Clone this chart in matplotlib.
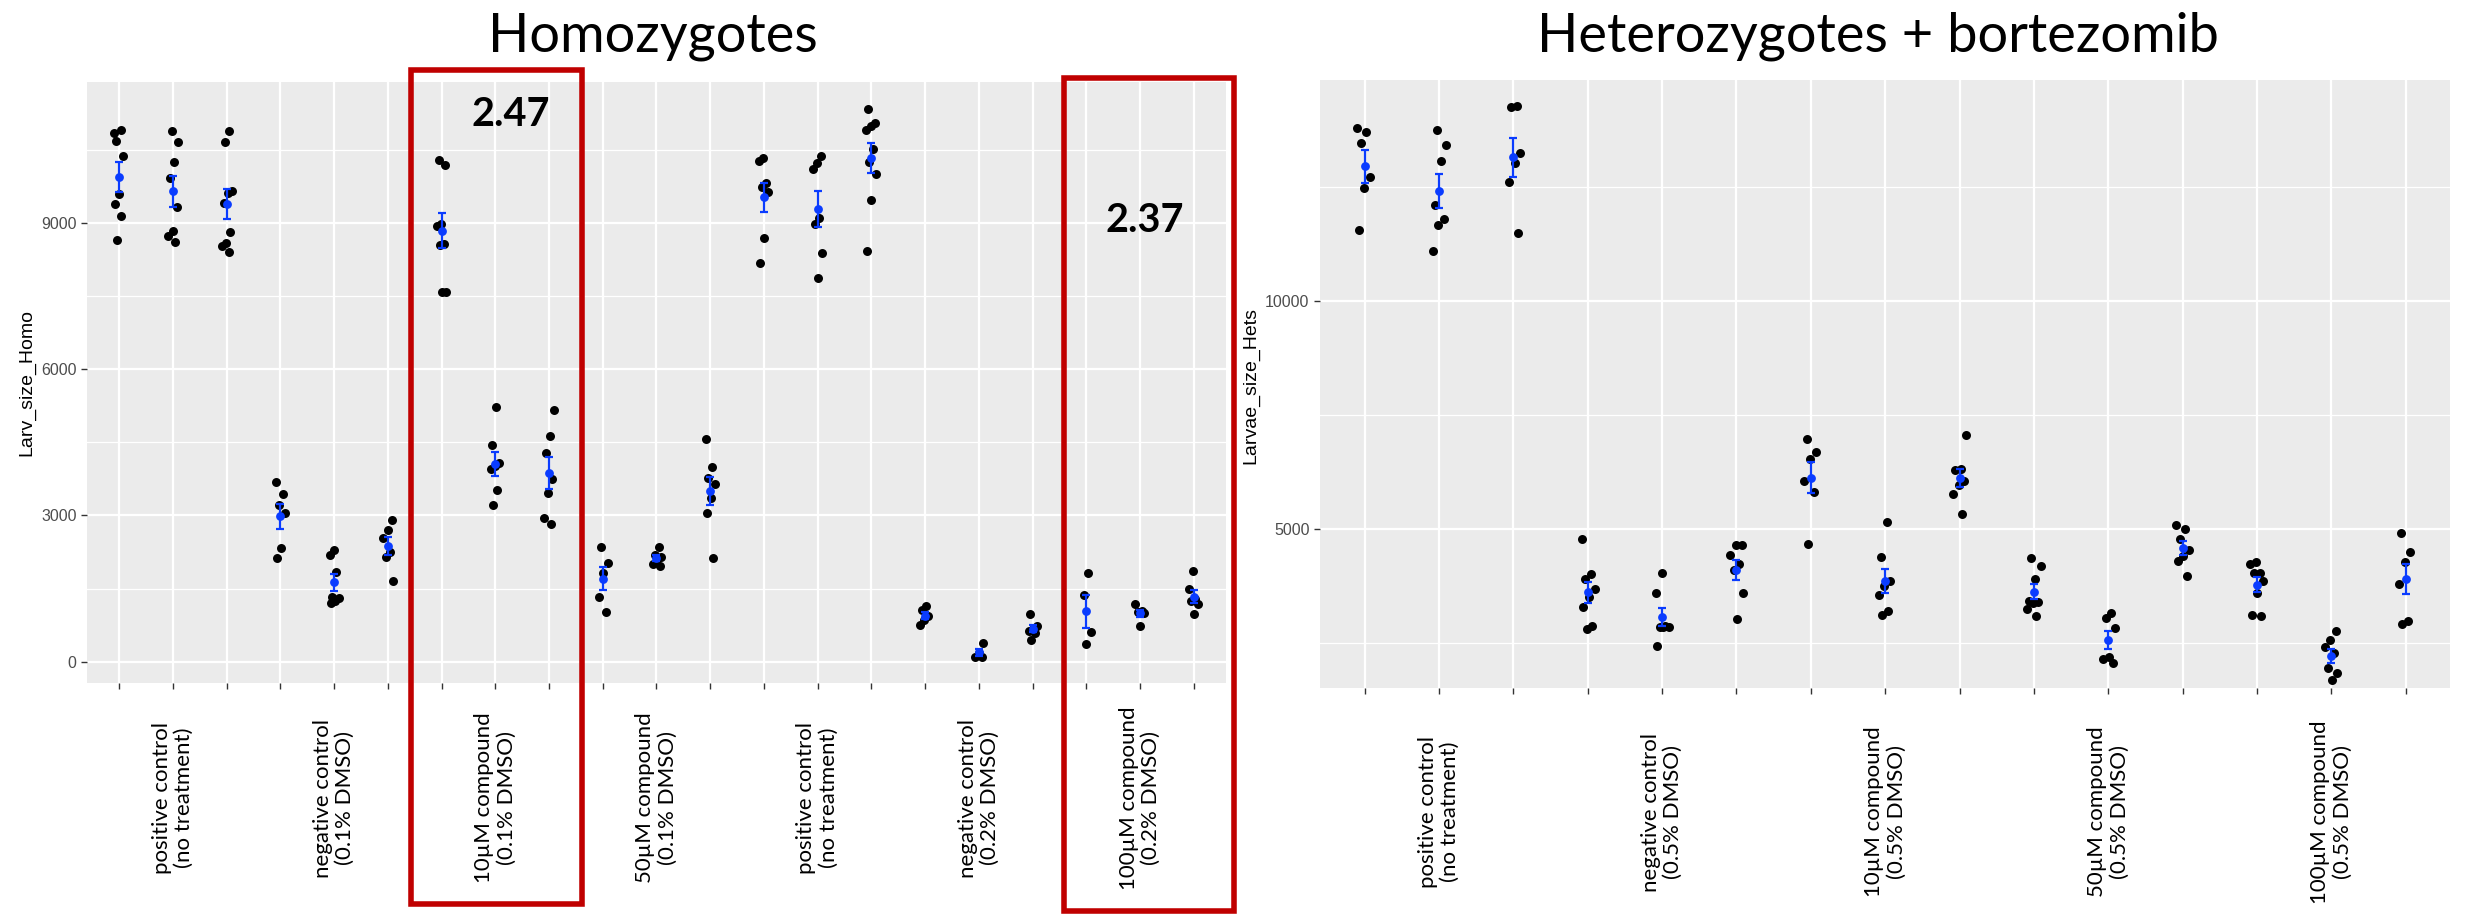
import numpy as np
import matplotlib
matplotlib.use("Agg")
import matplotlib.pyplot as plt
from matplotlib.transforms import blended_transform_factory
from matplotlib.patches import Rectangle
from matplotlib.ticker import FixedLocator

# ---------------- data ----------------
homo_labels = ["", "positive control\n(no treatment)", "",
               "", "negative control\n(0.1% DMSO)", "",
               "", "10µM compound\n(0.1% DMSO)", "",
               "", "50µM compound\n(0.1% DMSO)", "",
               "", "positive control\n(no treatment)", "",
               "", "negative control\n(0.2% DMSO)", "",
               "", "100µM compound\n(0.2% DMSO)", ""]

homo_values = [
    [10839, 10903, 10679, 10375, 9601, 9401, 9137, 8650],
    [10887, 10655, 10248, 9920, 9321, 8842, 8730, 8610],
    [10887, 10655, 9665, 9609, 9409, 8818, 8594, 8522, 8403],
    [3690, 3450, 3219, 3059, 2332, 2133],
    [2292, 2188, 1837, 1318, 1302, 1254, 1206],
    [2915, 2700, 2532, 2252, 2149, 1653],
    [10288, 10200, 8986, 8946, 8570, 8554, 7588, 7588],
    [5224, 4449, 4073, 4010, 3954, 3514, 3219],
    [5168, 4625, 4273, 3754, 3458, 2939, 2835],
    [2348, 2021, 1813, 1326, 1022],
    [2348, 2180, 2150, 2101, 2013, 1957],
    [4569, 3994, 3778, 3650, 3355, 3059, 2125],
    [10343, 10264, 9832, 9744, 9641, 8698, 8179],
    [10367, 10232, 10104, 9113, 8986, 8387, 7867],
    [11342, 11046, 10982, 10919, 10519, 10256, 10008, 9473, 8427],
    [1142, 1062, 935, 855, 743],
    [383, 184, 104, 88],
    [974, 735, 679, 631, 583, 439],
    [1813, 1374, 607, 359],
    [1182, 1038, 1022, 998, 727],
    [1869, 1486, 1278, 1238, 1182, 974],
]

hets_labels = ["", "positive control\n(no treatment)", "",
               "", "negative control\n(0.5% DMSO)", "",
               "", "10µM compound\n(0.5% DMSO)", "",
               "", "50µM compound\n(0.5% DMSO)", "",
               "", "100µM compound\n(0.5% DMSO)", ""]

hets_values = [
    [13813, 13726, 13473, 12723, 12487, 11562],
    [13761, 13429, 13072, 12112, 11806, 11675, 11099],
    [14284, 14267, 13246, 13045, 12618, 11492],
    [4773, 4014, 3909, 3674, 3517, 3298, 2880, 2801],
    [4031, 3595, 2862, 2853, 2850, 2845, 2443],
    [4651, 4642, 4433, 4223, 4101, 3595, 3028],
    [6981, 6693, 6545, 6065, 5820, 4668],
    [5148, 4380, 3866, 3752, 3560, 3211, 3115],
    [7068, 6326, 6300, 6065, 5977, 5777, 5340],
    [4354, 4180, 3909, 3421, 3400, 3386, 3246, 3080],
    [3159, 3037, 2818, 2182, 2155, 2051],
    [5096, 4991, 4782, 4538, 4407, 4293, 3970],
    [4267, 4223, 4031, 4031, 3857, 3604, 3106, 3098],
    [2766, 2557, 2408, 2269, 1946, 1832, 1675],
    [4921, 4503, 4276, 3787, 2984, 2923],
]

homo_yticks = [0, 3000, 6000, 9000]
homo_yminor = [1500, 4500, 7500, 10500]
hets_yticks = [5000, 10000]
hets_yminor = [2500, 7500, 12500]

titles = ["Homozygotes", "Heterozygotes + bortezomib"]
ylabels = ["Larv_size_Homo", "Larvae_size_Hets"]
fold_texts = ["2.47", "2.37"]

# ---------------- figure ----------------
W, H = 2468, 915
fig = plt.figure(figsize=(W / 100, H / 100), dpi=100)
fig.patch.set_facecolor("white")

def fx(px):
    return px / W

def fy(py):
    return 1 - py / H

BG = "#EBEBEB"
BLUE = "#0A3CFF"
TICKCOL = "#4D4D4D"

def panel(rect, values, labels, ylim, yticks, yminor, label_y):
    ax = fig.add_axes(rect)
    ax.set_facecolor(BG)
    n = len(values)
    ax.set_xlim(0.4, n + 0.6)
    ax.set_ylim(*ylim)
    for s in ax.spines.values():
        s.set_visible(False)
    ax.set_axisbelow(True)
    ax.set_xticks(np.arange(1, n + 1))
    ax.set_xticklabels([""] * n)
    ax.set_yticks(yticks)
    ax.set_yticklabels([str(t) for t in yticks], family="Liberation Sans",
                       fontsize=11.5, color=TICKCOL)
    ax.yaxis.set_minor_locator(FixedLocator(yminor))
    ax.tick_params(which="major", length=4, width=1.0, color="#333333", pad=3.5)
    ax.tick_params(which="minor", length=0)
    ax.grid(which="major", axis="both", color="white", lw=1.6)
    ax.grid(which="minor", axis="y", color="white", lw=0.9)

    for g, vals in enumerate(values):
        vals = np.asarray(vals, dtype=float)
        k = np.arange(len(vals))
        jit = 0.2 * (((k * 0.618034) + g * 0.37) % 1.0 - 0.5)
        ax.scatter(g + 1 + jit, vals, s=42, color="black", zorder=3,
                   linewidths=0)
        m = vals.mean()
        se = vals.std(ddof=1) / np.sqrt(len(vals))
        ax.errorbar([g + 1], [m], yerr=[se], fmt="none", ecolor=BLUE,
                    elinewidth=1.6, capsize=3, capthick=1.6, zorder=4)
        ax.scatter([g + 1], [m], s=40, color=BLUE, zorder=5, linewidths=0)

    trans = blended_transform_factory(ax.transData, fig.transFigure)
    for i, lab in enumerate(labels):
        if lab:
            ax.text(i + 1, fy(label_y), lab, transform=trans, rotation=90,
                    ha="center", va="center", multialignment="center",
                    fontsize=16, family="Lato", clip_on=False,
                    linespacing=1.15)
    return ax

ax1 = panel([fx(87), fy(683), fx(1226) - fx(87), fy(81.7) - fy(683)],
            homo_values, homo_labels, (-437, 11901),
            homo_yticks, homo_yminor, 798)
ax2 = panel([fx(1320), fy(688), fx(2450.4) - fx(1320), fy(79.5) - fy(688)],
            hets_values, hets_labels, (1510, 14870),
            hets_yticks, hets_yminor, 812)

# axis titles
fig.text(fx(27), fy(382), ylabels[0], rotation=90, ha="center", va="center",
         family="Liberation Sans", fontsize=14)
fig.text(fx(1251), fy(385), ylabels[1], rotation=90, ha="center", va="center",
         family="Liberation Sans", fontsize=14)

# panel titles
fig.text(fx(652.5), fy(51.3), titles[0], ha="center", va="baseline",
         family="Lato", fontweight="normal", fontsize=39, color="black")
fig.text(fx(1878), fy(51.3), titles[1], ha="center", va="baseline",
         family="Lato", fontweight="normal", fontsize=39, color="black")

# highlight boxes
for (x0, y0, x1, y1) in [(411, 70, 581.5, 904), (1063.7, 77.7, 1234, 910.6)]:
    fig.add_artist(Rectangle((fx(x0), fy(y1)), fx(x1) - fx(x0), fy(y0) - fy(y1),
                             transform=fig.transFigure, fill=False,
                             edgecolor="#C00000", lw=4, joinstyle="miter",
                             zorder=10))

fig.text(fx(510.6), fy(126.3), fold_texts[0], ha="center", va="baseline",
         family="Lato", fontweight="bold", fontsize=28.5)
fig.text(fx(1145), fy(232), fold_texts[1], ha="center", va="baseline",
         family="Lato", fontweight="bold", fontsize=28.5)

fig.savefig("out.png", dpi=100)
